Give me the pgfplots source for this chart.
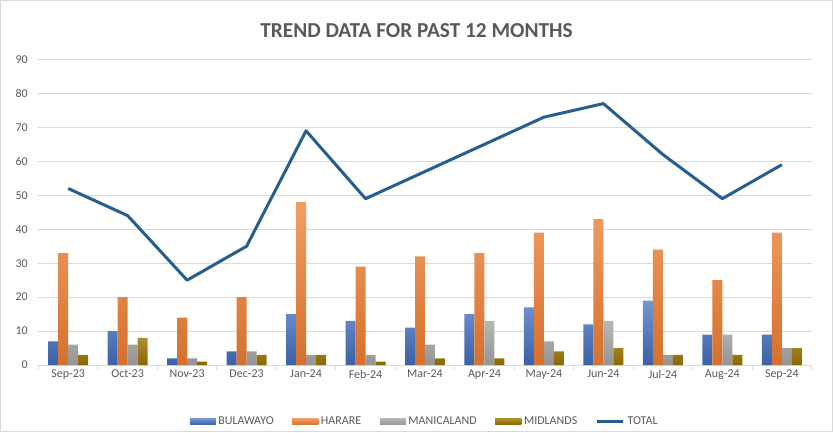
\documentclass[border=0pt]{standalone}
\usepackage{fontspec}
\setmainfont{Carlito}
\usepackage{pgfplots}
\pgfplotsset{compat=1.18}
\definecolor{cB}{HTML}{4472C4}
\definecolor{cH}{HTML}{ED7D31}
\definecolor{cM}{HTML}{A5A5A5}
\definecolor{cD}{HTML}{997300}
\definecolor{cT}{HTML}{255E91}
\definecolor{txt}{HTML}{595959}
\definecolor{grd}{HTML}{D9D9D9}
\pgfplotstableread{
x B H M D T
0 7 33 6 3 52
1 10 20 6 8 44
2 2 14 2 1 25
3 4 20 4 3 35
4 15 48 3 3 69
5 13 29 3 1 49
6 11 32 6 2 57
7 15 33 13 2 65
8 17 39 7 4 73
9 12 43 13 5 77
10 19 34 3 3 62
11 9 25 9 3 49
12 9 39 5 5 59
}\data
\begin{document}
\begin{tikzpicture}
\draw[draw=grd, line width=0.75pt] (0,0) rectangle (624.75pt,324pt);
\node[font=\bfseries\fontsize{16}{18}\selectfont, text=txt] at (312.4pt,301.5pt) {TREND DATA FOR PAST 12 MONTHS};
\begin{axis}[
  at={(28.5pt,50.25pt)}, anchor=south west,
  scale only axis, width=580.5pt, height=229.5pt,
  xmin=-0.5, xmax=12.5, ymin=0, ymax=90,
  ytick={0,10,...,90},
  xtick={0,...,12},
  xticklabels={Sep-23,Oct-23,Nov-23,Dec-23,Jan-24,Feb-24,Mar-24,Apr-24,May-24,Jun-24,Jul-24,Aug-24,Sep-24},
  minor xtick={-0.5,0.5,...,12.5},
  major tick length=0pt,
  minor tick length=4pt,
  tick align=outside,
  minor tick style={grd, line width=0.75pt},
  axis line style={draw=none},
  axis x line*=bottom,
  axis y line*=left,
  ymajorgrids, major grid style={grd, line width=0.75pt},
  tick label style={font=\fontsize{9}{10}\selectfont, text=txt},
  yticklabel style={xshift=-4.5pt},
  /pgf/number format/assume math mode=true,
  legend style={at={(0.5,-0.185)}, anchor=center, draw=none, fill=none,
    legend columns=5, font=\fontsize{9}{10}\selectfont, text=txt,
    /tikz/every even column/.append style={column sep=12pt}},
  legend cell align=left,
  clip=false,
]
\draw[grd, line width=0.75pt] (axis cs:-0.5,0) -- (axis cs:12.5,0);
\addplot[ybar, bar width=7.5pt, bar shift=-11.25pt, draw=none, top color=cB!75!white, bottom color=cB!85!black,
  legend image code/.code={\fill[cB] (0pt,-2.5pt) rectangle (19.5pt,2.5pt);}] table[x=x,y=B]{\data};
\addlegendentry{BULAWAYO}
\addplot[ybar, bar width=7.5pt, bar shift=-3.75pt, draw=none, top color=cH!75!white, bottom color=cH!90!black,
  legend image code/.code={\fill[cH] (0pt,-2.5pt) rectangle (19.5pt,2.5pt);}] table[x=x,y=H]{\data};
\addlegendentry{HARARE}
\addplot[ybar, bar width=7.5pt, bar shift=3.75pt, draw=none, top color=cM!80!white, bottom color=cM!90!black,
  legend image code/.code={\fill[cM] (0pt,-2.5pt) rectangle (19.5pt,2.5pt);}] table[x=x,y=M]{\data};
\addlegendentry{MANICALAND}
\addplot[ybar, bar width=7.5pt, bar shift=11.25pt, draw=none, top color=cD!80!white, bottom color=cD!90!black,
  legend image code/.code={\fill[cD] (0pt,-2.5pt) rectangle (19.5pt,2.5pt);}] table[x=x,y=D]{\data};
\addlegendentry{MIDLANDS}
\addplot[sharp plot, no marks, cT, line width=2.25pt, line join=round,
  legend image code/.code={\draw[cT, line width=2.25pt] (0pt,0pt) -- (19.5pt,0pt);}] table[x=x,y=T]{\data};
\addlegendentry{TOTAL}
\end{axis}
\end{tikzpicture}
\end{document}
